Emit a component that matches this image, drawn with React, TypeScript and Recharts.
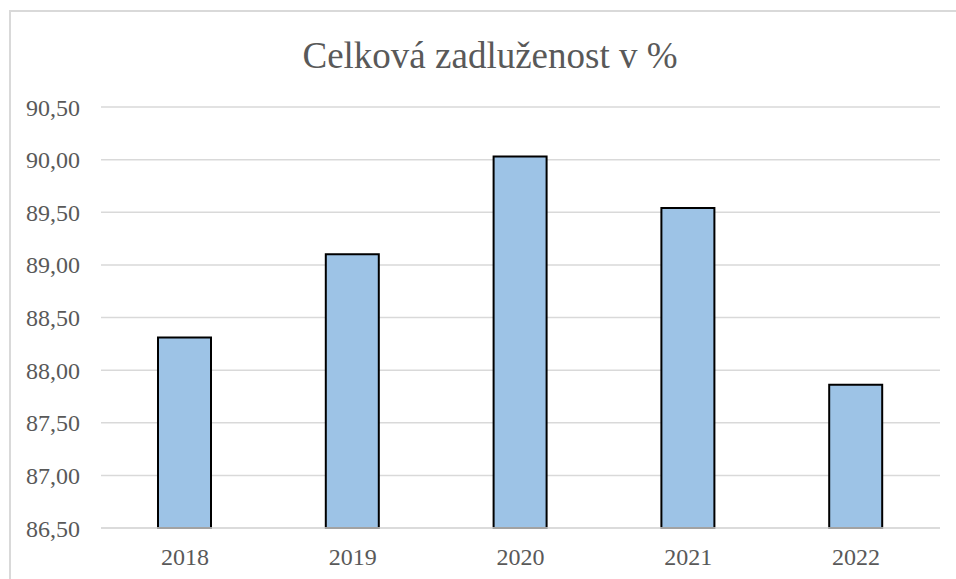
import { BarChart, Bar, XAxis, YAxis, CartesianGrid } from 'recharts'

const years = ['2018', '2019', '2020', '2021', '2022']
const debtShare = [88.31, 89.1, 90.03, 89.54, 87.86]
const yTicks = [86.5, 87, 87.5, 88, 88.5, 89, 89.5, 90, 90.5]

const data = years.map((year, i) => ({ year, value: debtShare[i] }))

const FONT = '"Liberation Serif", "Times New Roman", serif'
const TEXT = '#595959'
const GRID = '#d9d9d9'

const fmt = (v: number) => v.toFixed(2).replace('.', ',')

// plain svg text so the serif font is sure to stick
function YTick({ x, y, payload }: any) {
  return (
    <text x={x} y={y} dy={8.5} textAnchor="end" fill={TEXT} style={{ fontFamily: FONT, fontSize: 24 }}>
      {fmt(payload.value)}
    </text>
  )
}

function XTick({ x, y, payload }: any) {
  return (
    <text x={x} y={y} dy={17} textAnchor="middle" fill={TEXT} style={{ fontFamily: FONT, fontSize: 24 }}>
      {payload.value}
    </text>
  )
}

export default function App() {
  return (
    <div
      style={{
        position: 'absolute',
        left: 9,
        top: 10,
        width: 947,
        height: 569,
        borderLeft: `2px solid ${GRID}`,
        borderTop: `2px solid ${GRID}`,
        boxSizing: 'border-box',
        background: '#fff',
        fontFamily: FONT,
      }}
    >
      {/* title sits over the chart */}
      <div
        style={{
          position: 'absolute',
          left: 179,
          top: 25,
          width: 600,
          textAlign: 'center',
          fontSize: 37,
          lineHeight: 1,
          color: TEXT,
        }}
      >
        Celková zadluženost v %
      </div>
      <BarChart
        width={945}
        height={567}
        data={data}
        margin={{ top: 95, right: 16, left: 0, bottom: 0 }}
      >
        <CartesianGrid vertical={false} stroke={GRID} strokeWidth={1.5} />
        <XAxis
          dataKey="year"
          height={51}
          axisLine={{ stroke: GRID, strokeWidth: 1.5 }}
          tickLine={false}
          tickSize={0}
          tickMargin={20}
          tick={<XTick />}
        />
        <YAxis
          width={90}
          domain={[86.5, 90.5]}
          ticks={yTicks}
          axisLine={false}
          tickLine={false}
          tickSize={0}
          tickMargin={21}
          tick={<YTick />}
        />
        <Bar
          dataKey="value"
          fill="#9dc3e6"
          stroke="#000"
          strokeWidth={2}
          barSize={53}
          isAnimationActive={false}
        />
      </BarChart>
    </div>
  )
}
